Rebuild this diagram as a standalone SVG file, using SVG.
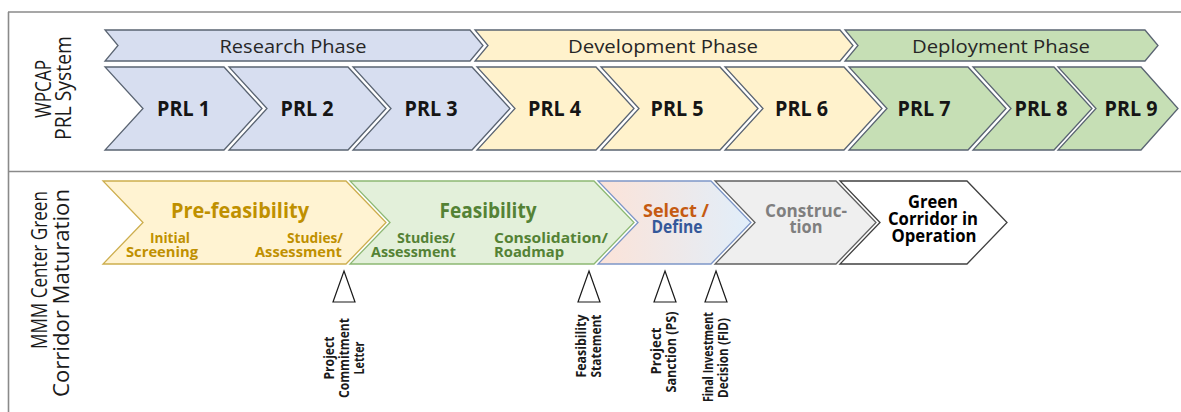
<svg xmlns="http://www.w3.org/2000/svg" width="1181" height="412" viewBox="0 0 1181 412">
  <defs>
    <linearGradient id="selectFill" x1="0" y1="0" x2="1" y2="0">
      <stop offset="0" stop-color="#FCE3D8"/>
      <stop offset="1" stop-color="#E1EEFA"/>
    </linearGradient>
    <style>
      text { font-family: "Open Sans", "Liberation Sans", sans-serif; }
      .frame { stroke: #8a8a8a; stroke-width: 1.6; fill: none; }
      .res { fill: #D7DEF0; stroke: #5A6472; stroke-width: 1.3; }
      .dev { fill: #FFF2CC; stroke: #5A6472; stroke-width: 1.3; }
      .dep { fill: #C6DFB5; stroke: #5A6472; stroke-width: 1.3; }
      .pre { fill: #FFF3D2; stroke: #CDAE4E; stroke-width: 1.3; }
      .feas { fill: #E3F0DA; stroke: #8DB873; stroke-width: 1.3; }
      .sel { fill: url(#selectFill); stroke: #7D96C7; stroke-width: 1.3; }
      .con { fill: #EFEFEF; stroke: #606060; stroke-width: 1.3; }
      .ops { fill: #FFFFFF; stroke: #404040; stroke-width: 1.3; }
      .ms { fill: #FFFFFF; stroke: #1a1a1a; stroke-width: 1.2; }
      .side { font-size: 22px; fill: #1a1a1a; text-anchor: middle; }
      .phase { font-size: 18.5px; fill: #262626; text-anchor: middle; }
      .prl { font-size: 20.5px; font-weight: 700; fill: #151515; text-anchor: middle; }
      .head { font-size: 20.5px; font-weight: 700; text-anchor: middle; }
      .sub { font-size: 14px; font-weight: 700; }
      .mid { font-size: 17.5px; font-weight: 700; text-anchor: middle; }
      .msl { font-size: 13.5px; font-weight: 700; fill: #1a1a1a; text-anchor: middle; }
      .gold { fill: #BF9000; }
      .green { fill: #548235; }
    </style>
  </defs>

  <!-- outer frame and row separator -->
  <g id="frame">
    <line class="frame" x1="8" y1="12" x2="1181" y2="12"/>
    <line class="frame" x1="8" y1="171.5" x2="1181" y2="171.5"/>
    <line class="frame" x1="8.5" y1="12" x2="8.5" y2="412"/>
  </g>

  <!-- row titles -->
  <g id="row-titles">
    <text class="side" transform="translate(51,89) rotate(-90)" textLength="58" lengthAdjust="spacingAndGlyphs">WPCAP</text>
    <text class="side" transform="translate(71,88) rotate(-90)" textLength="104" lengthAdjust="spacingAndGlyphs">PRL System</text>
    <text class="side" transform="translate(47,270) rotate(-90)" textLength="158" lengthAdjust="spacingAndGlyphs">MMM Center Green</text>
    <text class="side" transform="translate(69,293) rotate(-90)" textLength="208" lengthAdjust="spacingAndGlyphs">Corridor Maturation</text>
  </g>

  <!-- phase band -->
  <g id="research-phase">
    <polygon class="res" points="105,30 470,30 483,45.5 470,61 105,61 118,45.5"/>
    <text class="phase" x="293" y="52.5" textLength="147" lengthAdjust="spacingAndGlyphs">Research Phase</text>
  </g>
  <g id="development-phase">
    <polygon class="dev" points="475,30 840,30 853,45.5 840,61 475,61 488,45.5"/>
    <text class="phase" x="663" y="52.5" textLength="190" lengthAdjust="spacingAndGlyphs">Development Phase</text>
  </g>
  <g id="deployment-phase">
    <polygon class="dep" points="845,30 1145,30 1158,45.5 1145,61 845,61 858,45.5"/>
    <text class="phase" x="1001" y="52.5" textLength="178" lengthAdjust="spacingAndGlyphs">Deployment Phase</text>
  </g>

  <!-- PRL levels -->
  <g id="prl1">
    <polygon class="res" points="105,67 224,67 262,108.5 224,150 105,150 143,108.5"/>
    <text class="prl" x="183.5" y="116" textLength="53" lengthAdjust="spacingAndGlyphs">PRL 1</text>
  </g>
  <g id="prl2">
    <polygon class="res" points="229,67 348,67 386,108.5 348,150 229,150 267,108.5"/>
    <text class="prl" x="307" y="116" textLength="53" lengthAdjust="spacingAndGlyphs">PRL 2</text>
  </g>
  <g id="prl3">
    <polygon class="res" points="353,67 472,67 510,108.5 472,150 353,150 391,108.5"/>
    <text class="prl" x="431" y="116" textLength="53" lengthAdjust="spacingAndGlyphs">PRL 3</text>
  </g>
  <g id="prl4">
    <polygon class="dev" points="477,67 596,67 634,108.5 596,150 477,150 515,108.5"/>
    <text class="prl" x="554.5" y="116" textLength="53" lengthAdjust="spacingAndGlyphs">PRL 4</text>
  </g>
  <g id="prl5">
    <polygon class="dev" points="601,67 720,67 758,108.5 720,150 601,150 639,108.5"/>
    <text class="prl" x="677" y="116" textLength="53" lengthAdjust="spacingAndGlyphs">PRL 5</text>
  </g>
  <g id="prl6">
    <polygon class="dev" points="725,67 844,67 882,108.5 844,150 725,150 763,108.5"/>
    <text class="prl" x="801.5" y="116" textLength="53" lengthAdjust="spacingAndGlyphs">PRL 6</text>
  </g>
  <g id="prl7">
    <polygon class="dep" points="849,67 968,67 1006,108.5 968,150 849,150 887,108.5"/>
    <text class="prl" x="924" y="116" textLength="53" lengthAdjust="spacingAndGlyphs">PRL 7</text>
  </g>
  <g id="prl8">
    <polygon class="dep" points="973,67 1054,67 1092,108.5 1054,150 973,150 1011,108.5"/>
    <text class="prl" x="1041" y="116" textLength="53" lengthAdjust="spacingAndGlyphs">PRL 8</text>
  </g>
  <g id="prl9">
    <polygon class="dep" points="1058,67 1141,67 1178,108.5 1141,150 1058,150 1096,108.5"/>
    <text class="prl" x="1131" y="116" textLength="53" lengthAdjust="spacingAndGlyphs">PRL 9</text>
  </g>

  <!-- corridor maturation stages -->
  <g id="pre-feasibility">
    <polygon class="pre" points="103,181 346,181 386,222.5 346,264 103,264 143,222.5"/>
    <text class="head gold" x="240" y="218" textLength="138" lengthAdjust="spacingAndGlyphs">Pre-feasibility</text>
    <text class="sub gold" x="170" y="243" text-anchor="middle" textLength="40" lengthAdjust="spacingAndGlyphs">Initial</text>
    <text class="sub gold" x="162" y="257" text-anchor="middle" textLength="72" lengthAdjust="spacingAndGlyphs">Screening</text>
    <text class="sub gold" x="343" y="243" text-anchor="end" textLength="56" lengthAdjust="spacingAndGlyphs">Studies/</text>
    <text class="sub gold" x="342" y="257" text-anchor="end" textLength="87" lengthAdjust="spacingAndGlyphs">Assessment</text>
  </g>
  <g id="feasibility">
    <polygon class="feas" points="350,181 594,181 634,222.5 594,264 350,264 390,222.5"/>
    <text class="head green" x="488" y="218" textLength="97" lengthAdjust="spacingAndGlyphs">Feasibility</text>
    <text class="sub green" x="455" y="243" text-anchor="end" textLength="58" lengthAdjust="spacingAndGlyphs">Studies/</text>
    <text class="sub green" x="456" y="257" text-anchor="end" textLength="85" lengthAdjust="spacingAndGlyphs">Assessment</text>
    <text class="sub green" x="494" y="243" textLength="114" lengthAdjust="spacingAndGlyphs">Consolidation/</text>
    <text class="sub green" x="494" y="257" textLength="70" lengthAdjust="spacingAndGlyphs">Roadmap</text>
  </g>
  <g id="select-define">
    <polygon class="sel" points="598,181 711,181 751,222.5 711,264 598,264 638,222.5"/>
    <text class="mid" x="676" y="217" fill="#C55A11" textLength="66" lengthAdjust="spacingAndGlyphs">Select /</text>
    <text class="mid" x="677" y="233" fill="#34589A" textLength="51" lengthAdjust="spacingAndGlyphs">Define</text>
  </g>
  <g id="construction">
    <polygon class="con" points="715,181 836,181 876,222.5 836,264 715,264 755,222.5"/>
    <text class="mid" x="806" y="217" fill="#7F7F7F" textLength="82" lengthAdjust="spacingAndGlyphs">Construc-</text>
    <text class="mid" x="806" y="233" fill="#7F7F7F" textLength="33" lengthAdjust="spacingAndGlyphs">tion</text>
  </g>
  <g id="operation">
    <polygon class="ops" points="840,181 967,181 1007,222.5 967,264 840,264 880,222.5"/>
    <text class="mid" x="933" y="208" fill="#000" textLength="50" lengthAdjust="spacingAndGlyphs">Green</text>
    <text class="mid" x="933" y="225" fill="#000" textLength="90" lengthAdjust="spacingAndGlyphs">Corridor in</text>
    <text class="mid" x="934" y="242" fill="#000" textLength="85" lengthAdjust="spacingAndGlyphs">Operation</text>
  </g>

  <!-- decision gate markers -->
  <g id="gate-commitment">
    <polygon class="ms" points="344,271 355,302 333,302"/>
    <text class="msl" transform="translate(334,358) rotate(-90)" textLength="43" lengthAdjust="spacingAndGlyphs">Project</text>
    <text class="msl" transform="translate(349,358) rotate(-90)" textLength="80" lengthAdjust="spacingAndGlyphs">Commitment</text>
    <text class="msl" transform="translate(364,358) rotate(-90)" textLength="33" lengthAdjust="spacingAndGlyphs">Letter</text>
  </g>
  <g id="gate-feasibility">
    <polygon class="ms" points="589,271 600,302 578,302"/>
    <text class="msl" transform="translate(586,346) rotate(-90)" textLength="63" lengthAdjust="spacingAndGlyphs">Feasibility</text>
    <text class="msl" transform="translate(601,346) rotate(-90)" textLength="63" lengthAdjust="spacingAndGlyphs">Statement</text>
  </g>
  <g id="gate-sanction">
    <polygon class="ms" points="665,271 676,302 654,302"/>
    <text class="msl" transform="translate(661,351) rotate(-90)" textLength="47" lengthAdjust="spacingAndGlyphs">Project</text>
    <text class="msl" transform="translate(676,352) rotate(-90)" textLength="81" lengthAdjust="spacingAndGlyphs">Sanction (PS)</text>
  </g>
  <g id="gate-fid">
    <polygon class="ms" points="716,271 727,302 705,302"/>
    <text class="msl" transform="translate(713,357) rotate(-90)" textLength="90" lengthAdjust="spacingAndGlyphs">Final Investment</text>
    <text class="msl" transform="translate(728,358) rotate(-90)" textLength="80" lengthAdjust="spacingAndGlyphs">Decision (FID)</text>
  </g>
</svg>
